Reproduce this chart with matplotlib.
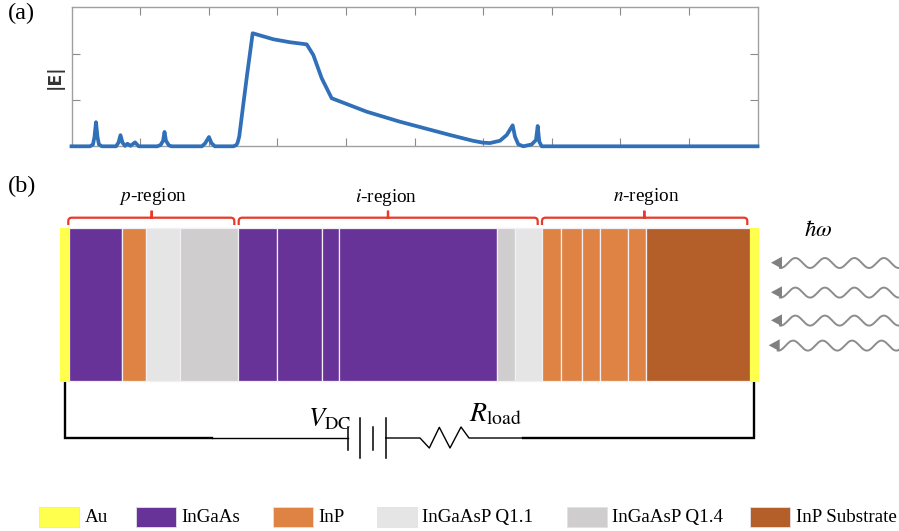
import numpy as np
import matplotlib
matplotlib.use('Agg')
import matplotlib.pyplot as plt
from matplotlib.patches import Rectangle, PathPatch, Polygon
from matplotlib.path import Path

plt.rcParams['font.family'] = ['Liberation Serif', 'DejaVu Serif']
plt.rcParams['mathtext.fontset'] = 'stix'

W, H = 899, 531

# |E| profile, x in tick units, y in tick units
field_x = [0, 0.27, 0.313, 0.335, 0.357, 0.379, 0.40, 0.444, 0.649, 0.685, 0.714, 0.743, 0.78,
           0.816, 0.86, 0.926, 0.98, 1.25, 1.30, 1.335, 1.356, 1.377, 1.42, 1.46, 1.90, 1.946,
           2.004, 2.04, 2.09, 2.36, 2.40, 2.42, 2.445, 2.5, 2.56, 2.641, 2.942, 3.185, 3.429, 3.525,
           3.647, 3.793, 4.303, 4.789, 5.517, 5.85, 5.999, 6.10, 6.246, 6.344, 6.431, 6.465, 6.513,
           6.586, 6.708, 6.771, 6.796, 6.819, 6.854, 10]
field_y = [0, 0, 0.04, 0.2, 0.52, 0.2, 0.04, 0, 0, 0.08, 0.24, 0.08, 0.01,
           0.055, 0.01, 0.085, 0, 0, 0.03, 0.12, 0.31, 0.12, 0.02, 0, 0, 0.06,
           0.2, 0.07, 0, 0, 0.025, 0.07, 0.21, 0.855, 1.55, 2.44, 2.31, 2.246, 2.2, 1.97,
           1.47, 1.037, 0.747, 0.53, 0.244, 0.12, 0.078, 0.07, 0.12, 0.244, 0.453, 0.207, 0.043,
           0, 0.04, 0.136, 0.438, 0.1, 0, 0]

# layer stack, left to right
layer_edges = [69, 122, 146, 180, 238, 277, 322, 339, 497, 515, 542, 560.5, 581.5, 599.5, 628, 645.5, 749.5]
layer_types = ['InGaAs', 'InP', 'Q1.1', 'Q1.4', 'InGaAs', 'InGaAs', 'InGaAs', 'InGaAs', 'Q1.4', 'Q1.1',
               'InP', 'InP', 'InP', 'InP', 'InP', 'Sub']
colors = {'Au': '#ffff4d', 'InGaAs': '#673398', 'InP': '#df8344', 'Q1.1': '#e5e5e5',
          'Q1.4': '#cfcdce', 'Sub': '#b45f29'}

legend_keys = ['Au', 'InGaAs', 'InP', 'Q1.1', 'Q1.4', 'Sub']
legend_labels = ['Au', 'InGaAs', 'InP', 'InGaAsP Q1.1', 'InGaAsP Q1.4', 'InP Substrate']
legend_left = [39, 135.5, 273, 377, 566.5, 750]

fig = plt.figure(figsize=(W / 100, H / 100), dpi=100)

# diagram layer in pixel coordinates
bg = fig.add_axes([0, 0, 1, 1])
bg.set_xlim(0, W)
bg.set_ylim(H, 0)
bg.axis('off')

# (a) field plot
left, right, top, bottom = 71.5, 757.5, 7.3, 146.3
ax = fig.add_axes([left / W, 1 - bottom / H, (right - left) / W, (bottom - top) / H])
ax.patch.set_alpha(0)
ax.plot(field_x, field_y, color='#3070b8', lw=2.7, clip_on=False, solid_joinstyle='round', zorder=5)
ax.set_xlim(0, 10)
ax.set_ylim(0, 3)
ax.set_xticks(range(1, 10))
ax.set_yticks([1, 2])
ax.tick_params(direction='in', length=6, width=0.8, color='#8a8a8a', top=True, right=True,
               labelbottom=False, labelleft=False)
for s in ax.spines.values():
    s.set_color('#a0a0a0')
    s.set_linewidth(1.0)
ax.text(-0.24, 1.5, '|E|', rotation=90, ha='center', va='center', fontsize=12.5,
        fontweight='bold', family='DejaVu Sans', color='#333333')

bg.text(8, 13, '(a)', fontsize=17.5, va='center', ha='left')
bg.text(8, 186, '(b)', fontsize=17.5, va='center', ha='left')

# (b) layers
y0, y1 = 228, 381
for i, kind in enumerate(layer_types):
    bg.bar(layer_edges[i], y1 - y0, width=layer_edges[i + 1] - layer_edges[i], bottom=y0, align='edge',
           color=colors[kind], edgecolor='#f2eff5', linewidth=0.9)
bg.add_patch(Rectangle((60, y0), 9.5, y1 + 1 - y0, fc=colors['Au'], ec='none', zorder=3))
bg.add_patch(Rectangle((749.5, y0), 9.5, y1 + 1 - y0, fc=colors['Au'], ec='none', zorder=3))


def bracket(x0, x1, xm):
    yb, yt, ym, r = 225, 217.7, 210.7, 3.5
    verts = [(x0, yb), (x0, yt + r), (x0, yt), (x0 + r, yt), (xm, yt), (xm, ym), (xm, yt),
             (x1 - r, yt), (x1, yt), (x1, yt + r), (x1, yb)]
    codes = [Path.MOVETO, Path.LINETO, Path.CURVE3, Path.CURVE3, Path.LINETO, Path.LINETO, Path.LINETO,
             Path.LINETO, Path.CURVE3, Path.CURVE3, Path.LINETO]
    bg.add_patch(PathPatch(Path(verts, codes), fc='none', ec='#e8392a', lw=1.6))


bracket(68.3, 234.3, 151.7)
bracket(238.7, 537.7, 388)
bracket(542, 747.3, 644.3)

bg.text(153.5, 196.5, r'$\mathit{p}$-region', fontsize=13.8, ha='center', va='center')
bg.text(386, 197.5, r'$\mathit{i}$-region', fontsize=13.8, ha='center', va='center')
bg.text(646, 196.5, r'$\mathit{n}$-region', fontsize=13.8, ha='center', va='center')
bg.text(818, 230, r'$\hbar\omega$', fontsize=16.5, ha='center', va='center')

# incoming light
for yw, tip in zip([262.7, 292.3, 320.3, 345.3], [771, 771, 771, 768.7]):
    xw = np.linspace(tip + 9, W, 300)
    bg.plot(xw, yw + 0.3 - 5 * np.sin(2 * np.pi * (xw - (tip + 17)) / 29.5), color='#8c8c8c', lw=1.4)
    bg.add_patch(Polygon([(tip, yw), (tip + 11, yw - 6), (tip + 11, yw + 6)], fc='#808080', ec='none', zorder=3))

# circuit
yc = 438
bg.plot([64.5, 64.5, 212], [382, yc, yc], color='black', lw=1.7, solid_joinstyle='miter')
bg.plot([212, 348.3], [yc, yc], color='black', lw=1.0)
for xp, half in zip([348.3, 360, 372.7, 385.7], [11.5, 20, 11.5, 20]):
    bg.plot([xp, xp], [yc - half, yc + half], color='black', lw=1.1)
bg.plot([385.7, 420, 429.3, 439.3, 450, 461, 469, 523],
        [yc, yc, 448, 427.3, 448, 427, yc, yc], color='black', lw=1.0)
bg.plot([523, 754, 754], [yc, yc, 382], color='black', lw=1.7, solid_joinstyle='miter')

bg.text(308, 426, r'$\mathit{V}_{\mathrm{DC}}$', fontsize=19, ha='left', va='baseline')
bg.text(469, 421, r'$\mathit{R}_{\mathrm{load}}$', fontsize=20, ha='left', va='baseline')

# legend
for key, label, xl in zip(legend_keys, legend_labels, legend_left):
    bg.add_patch(Rectangle((xl, 507), 40, 20, fc=colors[key], ec='#e4e0e8', lw=0.6))
    bg.text(xl + 45.5, 517.5, label, fontsize=13.7, ha='left', va='center')

fig.savefig('out.png', dpi=100)
